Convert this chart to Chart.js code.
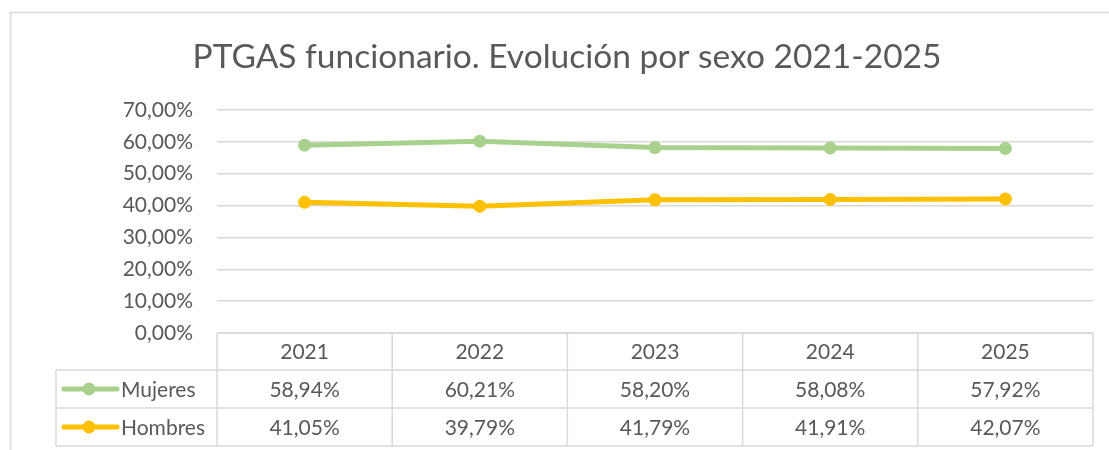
<!DOCTYPE html>
<html lang="es">
<head>
<meta charset="UTF-8">
<title>PTGAS funcionario</title>
<script src="https://cdn.jsdelivr.net/npm/chart.js"></script>
<style>
  html, body { margin: 0; padding: 0; background: #fff; }
  .wrap { width: 1109px; height: 450px; position: relative; }
</style>
</head>
<body>
<div class="wrap"><canvas id="chart"></canvas></div>
<script>
const years = ['2021', '2022', '2023', '2024', '2025'];
const mujeres = [58.94, 60.21, 58.20, 58.08, 57.92];
const hombres = [41.05, 39.79, 41.79, 41.91, 42.07];
const seriesNames = ['Mujeres', 'Hombres'];
const seriesColors = ['#A9D18E', '#FFC000'];
const titleText = 'PTGAS funcionario. Evolución por sexo 2021-2025';

const FONT = 'Lato, "Open Sans", sans-serif';
const TEXT = '#595959';
const GRID = '#d9d9d9';

function pct(v) { return v.toFixed(2).replace('.', ',') + '%'; }

// frame + title + data table below the plot
const tablePlugin = {
  id: 'tablePlugin',
  beforeDraw(chart) {
    const ctx = chart.ctx;
    ctx.save();
    ctx.strokeStyle = GRID;
    ctx.lineWidth = 1.5;
    ctx.beginPath();
    ctx.moveTo(10.5, 450);
    ctx.lineTo(10.5, 12.5);
    ctx.lineTo(1109, 12.5);
    ctx.stroke();

    ctx.fillStyle = TEXT;
    ctx.font = '33.5px ' + FONT;
    ctx.textAlign = 'center';
    ctx.textBaseline = 'middle';
    ctx.fillText(titleText, 567, 57);
    ctx.restore();
  },
  afterDraw(chart) {
    const ctx = chart.ctx;
    const area = chart.chartArea;
    const xs = chart.scales.x;
    const rows = [area.bottom, 370, 408, 446];
    const legLeft = 56;
    const colW = (area.right - area.left) / years.length;

    ctx.save();
    ctx.strokeStyle = GRID;
    ctx.lineWidth = 1.5;
    ctx.beginPath();
    ctx.moveTo(area.left, rows[0]);
    ctx.lineTo(area.right, rows[0]);
    for (let r = 1; r < rows.length; r++) {
      ctx.moveTo(legLeft, rows[r]);
      ctx.lineTo(area.right, rows[r]);
    }
    ctx.moveTo(legLeft, rows[1]);
    ctx.lineTo(legLeft, rows[3]);
    for (let i = 0; i <= years.length; i++) {
      const x = area.left + i * colW;
      ctx.moveTo(x, rows[0]);
      ctx.lineTo(x, rows[3]);
    }
    ctx.stroke();

    ctx.fillStyle = TEXT;
    ctx.font = '21px ' + FONT;
    ctx.textAlign = 'center';
    ctx.textBaseline = 'middle';
    years.forEach((y, i) => {
      const x = xs.getPixelForValue(i);
      ctx.fillText(y, x, (rows[0] + rows[1]) / 2 + 1);
    });

    chart.data.datasets.forEach((ds, d) => {
      const yMid = (rows[d + 1] + rows[d + 2]) / 2 + 1;
      ctx.textAlign = 'center';
      ds.data.forEach((v, i) => {
        ctx.fillText(pct(v), xs.getPixelForValue(i), yMid);
      });
      // legend key
      ctx.strokeStyle = ds.borderColor;
      ctx.lineWidth = 5;
      ctx.lineCap = 'round';
      ctx.beginPath();
      ctx.moveTo(64, yMid - 1);
      ctx.lineTo(117, yMid - 1);
      ctx.stroke();
      ctx.fillStyle = ds.borderColor;
      ctx.beginPath();
      ctx.arc(89, yMid - 1, 6.5, 0, Math.PI * 2);
      ctx.fill();
      ctx.fillStyle = TEXT;
      ctx.textAlign = 'left';
      ctx.fillText(seriesNames[d], 121, yMid);
    });
    ctx.restore();
  }
};

new Chart(document.getElementById('chart'), {
  type: 'line',
  data: {
    labels: years,
    datasets: [
      { label: seriesNames[0], data: mujeres, borderColor: seriesColors[0], backgroundColor: seriesColors[0] },
      { label: seriesNames[1], data: hombres, borderColor: seriesColors[1], backgroundColor: seriesColors[1] }
    ]
  },
  options: {
    responsive: true,
    maintainAspectRatio: false,
    animation: false,
    layout: { padding: { left: 0, top: 110, right: 16, bottom: 117 } },
    elements: {
      line: { borderWidth: 5, tension: 0 },
      point: { radius: 6.5, hoverRadius: 6.5, borderWidth: 0 }
    },
    plugins: {
      legend: { display: false },
      title: { display: false },
      tooltip: { enabled: false }
    },
    scales: {
      x: { type: 'category', display: false, offset: true },
      y: {
        min: 0, max: 70,
        afterFit(scale) { scale.width = 217; },
        border: { display: false },
        grid: { color: GRID, lineWidth: 1.5, drawTicks: false },
        ticks: {
          stepSize: 10,
          padding: 24,
          color: TEXT,
          font: { family: FONT, size: 21 },
          callback: v => pct(v)
        }
      }
    }
  },
  plugins: [tablePlugin]
});
</script>
</body>
</html>
